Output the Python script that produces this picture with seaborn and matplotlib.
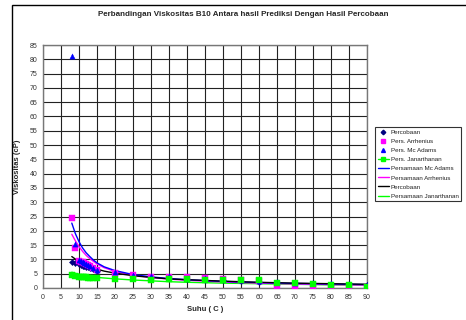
import numpy as np
import pandas as pd
import matplotlib
matplotlib.use("Agg")
import matplotlib.pyplot as plt
from matplotlib.lines import Line2D
from matplotlib.patches import Rectangle
import seaborn as sns

# ---- data ----
suhu = [8, 9, 10, 10.5, 11, 11.5, 12, 12.5, 13, 14, 15, 20, 25, 30, 35, 40, 45, 50,
        55, 60, 65, 70, 75, 80, 85, 90]
percobaan = [9.0, 8.8, 8.5, 8.0, 7.8, 7.6, 7.4, 7.2, 7.0, 6.5, 5.9, 5.2, 4.4, 3.8, 3.5,
             3.2, 2.9, 2.7, 2.4, 2.2, 2.0, 1.8, 1.6, 1.5, 1.3, 1.1]
pers_arrhenius = [24.5, 14.0, 9.5, 9.2, 9.0, 8.7, 8.5, 8.0, 7.7, 7.0, 6.3, 5.3, 4.5, 3.9,
                  4.0, 3.7, 3.4, 3.1, 2.7, 2.4, 0.5, 0.5, 0.4, 0.3, 0.3, 0.3]
pers_mcadams = [81.0, 15.5, 9.8, 9.5, 9.2, 8.8, 8.5, 8.2, 7.8, 7.0, 6.2, 5.6, 4.6, 4.1,
                4.2, 3.6, 3.4, 3.0, 2.7, 2.4, 2.1, 1.9, 1.7, 1.6, 1.3, 1.0]
pers_janarthanan = [4.5, 4.3, 4.0, 3.9, 3.8, 3.8, 3.7, 3.6, 3.6, 3.5, 3.4, 3.3, 3.0, 2.7,
                    3.0, 3.0, 2.9, 2.8, 2.7, 2.8, 1.8, 1.6, 1.5, 1.2, 1.0, 0.5]

# trend curves
curve_x = [8, 9, 10, 11, 12, 13, 14, 15, 17, 20, 25, 30, 35, 40, 50, 60, 70, 80, 90]
curve_mcadams = [22.7, 19.0, 16.2, 14.0, 12.3, 11.0, 9.8, 8.8, 7.4, 6.1, 4.7, 3.9, 3.3,
                 2.9, 2.3, 1.9, 1.6, 1.4, 1.2]
curve_arrhenius = [18.8, 16.5, 14.5, 12.8, 11.4, 10.3, 9.3, 8.4, 7.1, 5.8, 4.5, 3.7, 3.1,
                   2.7, 2.1, 1.7, 1.4, 1.2, 1.0]
curve_percobaan = [11.0, 10.1, 9.3, 8.6, 8.0, 7.5, 7.0, 6.6, 5.9, 5.2, 4.3, 3.7, 3.2,
                   2.9, 2.4, 2.0, 1.7, 1.5, 1.3]
curve_janarthanan = [5.5, 5.1, 4.8, 4.5, 4.2, 4.0, 3.9, 3.7, 3.5, 3.2, 2.8, 2.5, 2.2,
                     2.0, 1.7, 1.5, 1.3, 1.1, 1.0]

x_ticks = list(range(0, 95, 5))
y_ticks = list(range(0, 90, 5))

# ---- figure ----
sns.set_style("white")
plt.rcParams['font.family'] = ['Liberation Sans', 'DejaVu Sans']
fig = plt.figure(figsize=(4.66, 3.2), dpi=100)
ax = fig.add_axes([43/466, 1-288/320, (367-43)/466, (288-45)/320])

# outer chart border
fig.patches.append(Rectangle((12/466, -0.2), 2.0, 1.2 - 5/320, transform=fig.transFigure,
                             fill=False, edgecolor='black', linewidth=1.0, zorder=0))

df_pts = pd.DataFrame({'suhu': suhu, 'percobaan': percobaan, 'arr': pers_arrhenius,
                       'mca': pers_mcadams, 'jan': pers_janarthanan})
df_cur = pd.DataFrame({'x': curve_x, 'mca': curve_mcadams, 'arr': curve_arrhenius,
                       'perc': curve_percobaan, 'jan': curve_janarthanan})

# trend curves
sns.lineplot(data=df_cur, x='x', y='jan', color='#00FF00', lw=1.0, ax=ax, zorder=3)
sns.lineplot(data=df_cur, x='x', y='arr', color='#FF00FF', lw=1.0, ax=ax, zorder=3)
sns.lineplot(data=df_cur, x='x', y='mca', color='#0000FF', lw=1.0, ax=ax, zorder=3)
sns.lineplot(data=df_cur, x='x', y='perc', color='black', lw=1.0, ax=ax, zorder=3)

# points
sns.scatterplot(data=df_pts, x='suhu', y='percobaan', marker='D', s=10, color='#000080',
                edgecolor='#000080', linewidth=0.3, ax=ax, zorder=4)
sns.scatterplot(data=df_pts, x='suhu', y='arr', marker='s', s=14, color='#FF00FF',
                edgecolor='#FF00FF', linewidth=0.3, ax=ax, zorder=4)
sns.scatterplot(data=df_pts, x='suhu', y='mca', marker='^', s=14, color='#0000FF',
                edgecolor='#0000FF', linewidth=0.3, ax=ax, zorder=4)
sns.scatterplot(data=df_pts, x='suhu', y='jan', marker='s', s=14, color='#00FF00',
                edgecolor='#00FF00', linewidth=0.3, ax=ax, zorder=5)

ax.set_xlim(0, 90)
ax.set_ylim(0, 85)
ax.set_xticks(x_ticks)
ax.set_yticks(y_ticks)
ax.set_xticklabels([str(t) for t in x_ticks], fontsize=5, color='#333333')
ax.set_yticklabels([str(t) for t in y_ticks], fontsize=5, color='#333333')
ax.tick_params(axis='both', length=2, width=0.6, color='#555555', pad=2)
ax.grid(True, color='#222222', linewidth=0.8)
ax.set_axisbelow(True)
for s in ax.spines.values():
    s.set_color('#777777')
    s.set_linewidth(1.0)

ax.set_xlabel('Suhu ( C )', fontsize=5.5, fontweight='bold', labelpad=4)
ax.set_ylabel('Viskositas (cP)', fontsize=5.5, fontweight='bold', labelpad=6)

fig.text(243/466, 1-15/320, 'Perbandingan Viskositas B10 Antara hasil Prediksi Dengan Hasil Percobaan',
         ha='center', va='center', fontsize=5.8, fontweight='bold')

handles = [
    Line2D([], [], ls='none', marker='D', ms=2.3, color='#000080'),
    Line2D([], [], ls='none', marker='s', ms=2.6, color='#FF00FF'),
    Line2D([], [], ls='none', marker='^', ms=2.8, color='#0000FF'),
    Line2D([], [], ls='-', lw=1.0, marker='s', ms=2.6, color='#00FF00'),
    Line2D([], [], ls='-', lw=1.0, color='#0000FF'),
    Line2D([], [], ls='-', lw=1.0, color='#FF00FF'),
    Line2D([], [], ls='-', lw=1.0, color='black'),
    Line2D([], [], ls='-', lw=1.0, color='#00FF00'),
]
labels = ['Percobaan', 'Pers. Arrhenius', 'Pers. Mc Adams', 'Pers. Janarthanan',
          'Persamaan Mc Adams', 'Persamaan Arrhenius', 'Percobaan', 'Persamaan Janarthanan']
leg = fig.legend(handles, labels, loc='upper left', bbox_to_anchor=(375/466, 1-127/320),
                 bbox_transform=fig.transFigure, fontsize=4.5, frameon=True, fancybox=False,
                 handlelength=1.8, handletextpad=0.3, labelspacing=0.6, borderpad=0.4,
                 borderaxespad=0.0)
leg.get_frame().set_edgecolor('black')
leg.get_frame().set_linewidth(0.8)
for t in leg.get_texts():
    t.set_color('#222222')

fig.savefig('out.png', dpi=100)
